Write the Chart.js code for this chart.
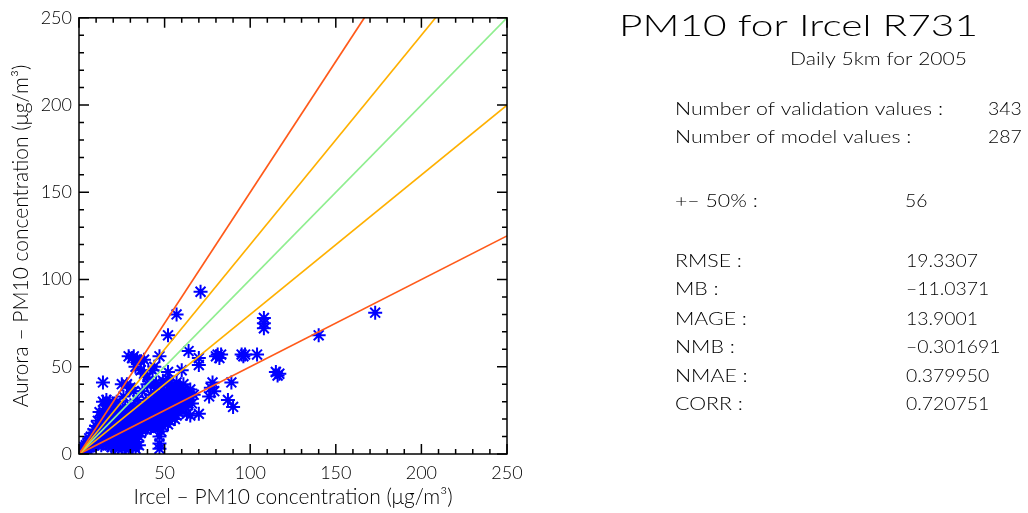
<!DOCTYPE html>
<html><head><meta charset="utf-8">
<script src="https://cdn.jsdelivr.net/npm/chart.js@4"></script>
<style>html,body{margin:0;padding:0;background:#fff;}canvas{display:block;}</style>
</head><body>
<canvas id="c" width="1028" height="513"></canvas>
<script>
// ---------- data ----------
const axisMin = 0, axisMax = 250, majorStep = 50, minorStep = 10;
const xTitle = 'Ircel \u2013 PM10 concentration (\u03bcg/m\u00b3)';
const yTitle = 'Aurora \u2013 PM10 concentration (\u03bcg/m\u00b3)';
const chartTitle = 'PM10 for Ircel R731';
const chartSubtitle = 'Daily 5km for 2005';
const countLabels = ['Number of validation values :', 'Number of model values :'];
const countValues = ['343', '287'];
const bandLabel = '+\u2013 50% :';
const bandValue = '56';
const statLabels = ['RMSE :', 'MB :', 'MAGE :', 'NMB :', 'NMAE :', 'CORR :'];
const statValues = ['19.3307', '\u201311.0371', '13.9001', '\u20130.301691', '0.379950', '0.720751'];

// reference lines (end points where they leave the frame)
const line150 = [[0,0],[166.7,250]];
const line120 = [[0,0],[208.3,250]];
const line100 = [[0,0],[250,250]];
const line080 = [[0,0],[250,200]];
const line050 = [[0,0],[250,125]];

// scatter points [Ircel, Aurora]
const nearOrigin = [[1,1],[2,2],[2,3],[3,2],[3,4],[4,3],[4,5],[5,3],[5,6],[6,4],[6,7],[6,9],[7,4],[7,6],[7,10],[8,5],[8,8],[8,12],[9,5],[9,9],[9,14],[10,6],[10,10],[10,16],[11,6],[11,12],[11,19]];
const lowGroup = [[12,7],[12,14],[12,24],[13,5],[13,9],[13,17],[13,21],[14,6],[14,11],[14,30],[14,41],[15,8],[15,13],[15,19],[15,26],[16,6],[16,10],[16,16],[16,23],[16,31],[17,5],[17,9],[17,13],[17,20],[17,28],[18,7],[18,11],[18,15],[18,22],[18,30],[19,4],[19,9],[19,13],[19,18],[19,25],[20,5],[20,11],[20,16],[20,21],[20,28]];
const midGroup = [[21,4],[21,8],[21,13],[21,18],[21,24],[22,6],[22,10],[22,15],[22,20],[22,30],[23,3],[23,11],[23,16],[23,22],[24,5],[24,9],[24,13],[24,18],[24,26],[25,3],[25,7],[25,11],[25,16],[25,21],[25,40],[26,6],[26,12],[26,17],[26,23],[26,33],[27,4],[27,9],[27,14],[27,19],[27,27],[28,7],[28,12],[28,16],[28,22],[28,40],[29,3],[29,5],[29,10],[29,18],[29,25],[29,56],[30,8],[30,14],[30,20],[30,28],[30,38],
  [31,4],[31,12],[31,17],[31,23],[31,55],[32,6],[32,10],[32,15],[32,20],[32,26],[32,36],[32,56],[33,3],[33,12],[33,17],[33,22],[33,50],[34,7],[34,13],[34,19],[34,24],[34,31],[34,54],[35,5],[35,10],[35,15],[35,21],[35,27],[36,12],[36,17],[36,23],[36,48],[36,53]];
const upperGroup = [[37,15],[37,20],[37,25],[37,36],[38,16],[38,21],[38,28],[38,46],[38,54],[39,14],[39,18],[39,24],[39,31],[40,15],[40,20],[40,26],[40,40],[40,44],[41,17],[41,22],[41,29],[42,15],[42,19],[42,25],[42,34],[42,40],[43,16],[43,21],[43,27],[43,48],[44,17],[44,23],[44,30],[44,50],[45,18],[45,25],[45,32],[45,38],[45,41],[46,15],[46,21],[46,28],[46,35],
  [47,3],[47,6],[47,10],[48,13],
  [47,17],[47,23],[47,30],[47,56],[48,19],[48,25],[48,32],[48,39],[49,16],[49,21],[49,27],[49,34],[49,42],[50,18],[50,24],[50,30],[50,36],[51,20],[51,26],[51,32],[51,41],[52,17],[52,22],[52,28],[52,34],[52,47],[52,68],[53,19],[53,25],[53,31],[53,37],[53,42],[54,21],[54,27],[54,33],[54,39],[55,23],[55,29],[55,35],[56,20],[56,26],[56,32],[56,38]];
const edgeGroup = [[57,22],[57,28],[57,34],[57,41],[57,80],[58,24],[58,30],[58,36],[59,26],[59,32],[59,38],[60,28],[60,34],[60,48],[61,30],[61,37],[61,40],[62,27],[62,33],[63,23],[63,31],[64,29],[64,35],[64,59],[65,22],[65,33],[65,37],[66,29],[67,34],[70,23],[70,51],[70,55],[71,93]];
const outliers = [[76,33],[77,38],[78,41],[79,36],[80,56],[81,57],[82,55],[83,57],[87,31],[89,41],[90,27],[95,57],[96,56],[97,57],[104,57],[108,72],[108,75],[108,78],[115,47],[116,45],[117,46],[140,68],[173,81]];

// ---------- build ----------
const toXY = arr => arr.map(p => ({x: p[0], y: p[1]}));
const scatterData = toXY([].concat(nearOrigin, lowGroup, midGroup, upperGroup, edgeGroup, outliers));
const RED = '#ff5a1a', ORANGE = '#ffb000', GREEN = '#90ee90';
function refLine(pts, color){
  return {type:'line', data: toXY(pts), borderColor: color, borderWidth: 1.7, pointRadius: 0, fill:false, order: 0, tension: 0};
}
const FONT = 'Lato, "Liberation Sans", sans-serif';
const WEIGHT = '300';

const bgPlugin = {
  id:'bg',
  beforeDraw(chart){ const c = chart.ctx; c.save(); c.fillStyle='#fff'; c.fillRect(0,0,chart.width,chart.height); c.restore(); }
};
const framePlugin = {
  id:'frame',
  afterDatasetsDraw(chart){
    const {ctx, chartArea:a, scales:{x, y}} = chart;
    ctx.save();
    ctx.strokeStyle = '#000'; ctx.lineWidth = 1.5;
    ctx.strokeRect(a.left, a.top, a.right - a.left, a.bottom - a.top);
    for (let v = axisMin; v <= axisMax; v += minorStep){
      const L = (v % majorStep === 0) ? 10 : 5;
      const px = x.getPixelForValue(v), py = y.getPixelForValue(v);
      ctx.beginPath();
      ctx.moveTo(px, a.bottom); ctx.lineTo(px, a.bottom - L);
      ctx.moveTo(px, a.top); ctx.lineTo(px, a.top + L);
      ctx.moveTo(a.left, py); ctx.lineTo(a.left + L, py);
      ctx.moveTo(a.right, py); ctx.lineTo(a.right - L, py);
      ctx.stroke();
    }
    ctx.restore();
  }
};
function drawScaled(ctx, text, x, y, sx){
  ctx.save(); ctx.translate(x, y); ctx.scale(sx, 1); ctx.fillText(text, 0, 0); ctx.restore();
}
const panelPlugin = {
  id:'panel',
  afterDraw(chart){
    const ctx = chart.ctx;
    ctx.save();
    ctx.fillStyle = '#000'; ctx.textBaseline = 'alphabetic'; ctx.textAlign = 'left';
    ctx.font = WEIGHT + ' 30px ' + FONT;
    let sx = 359 / ctx.measureText(chartTitle).width;
    drawScaled(ctx, chartTitle, 619, 36, sx);
    ctx.font = WEIGHT + ' 17px ' + FONT;
    sx = 177 / ctx.measureText(chartSubtitle).width;
    drawScaled(ctx, chartSubtitle, 790, 65, sx);
    ctx.font = WEIGHT + ' 18px ' + FONT;
    sx = 268 / ctx.measureText(countLabels[0]).width;
    const sv = 72 / ctx.measureText(statValues[0]).width;
    const countY = [115, 143.3];
    countLabels.forEach((t, i) => { drawScaled(ctx, t, 675, countY[i], sx); drawScaled(ctx, countValues[i], 988, countY[i], sv); });
    drawScaled(ctx, bandLabel, 675, 206.7, sx);
    drawScaled(ctx, bandValue, 905, 206.7, sv);
    const statY = [266.7, 295, 325, 353, 381.7, 410];
    statLabels.forEach((t, i) => { drawScaled(ctx, t, 675, statY[i], sx); drawScaled(ctx, statValues[i], 906, statY[i], sv); });
    ctx.restore();
  }
};

new Chart(document.getElementById('c'), {
  type: 'scatter',
  data: {
    datasets: [
      refLine(line150, RED), refLine(line120, ORANGE), refLine(line100, GREEN), refLine(line080, ORANGE), refLine(line050, RED),
      {type:'scatter', data: scatterData, pointStyle:'star', pointRadius: 7, pointHoverRadius: 7, borderColor:'#0000ff', backgroundColor:'#0000ff', pointBorderWidth: 2, order: 1}
    ]
  },
  options: {
    responsive: false, animation: false, devicePixelRatio: 1,
    layout: {padding: {left: 0, right: 521, top: 14, bottom: 0}},
    plugins: {legend: {display: false}, tooltip: {enabled: false}},
    scales: {
      x: {
        type: 'linear', min: axisMin, max: axisMax,
        grid: {display: false, drawTicks: false}, border: {display: false},
        ticks: {stepSize: majorStep, color: '#000', font: {family: FONT, size: 18, weight: WEIGHT}, padding: 8, maxRotation: 0},
        title: {display: true, text: xTitle, color: '#000', font: {family: FONT, size: 21, weight: WEIGHT}, padding: {top: 0, bottom: 3}},
        afterFit(s){ s.height = 59; }
      },
      y: {
        type: 'linear', min: axisMin, max: axisMax,
        grid: {display: false, drawTicks: false}, border: {display: false},
        ticks: {stepSize: majorStep, color: '#000', font: {family: FONT, size: 18, weight: WEIGHT}, padding: 7},
        title: {display: true, text: yTitle, color: '#000', font: {family: FONT, size: 21, weight: WEIGHT}, padding: {top: 9, bottom: 0}},
        afterFit(s){ s.width = 79; }
      }
    }
  },
  plugins: [bgPlugin, framePlugin, panelPlugin]
});
</script>
</body></html>
